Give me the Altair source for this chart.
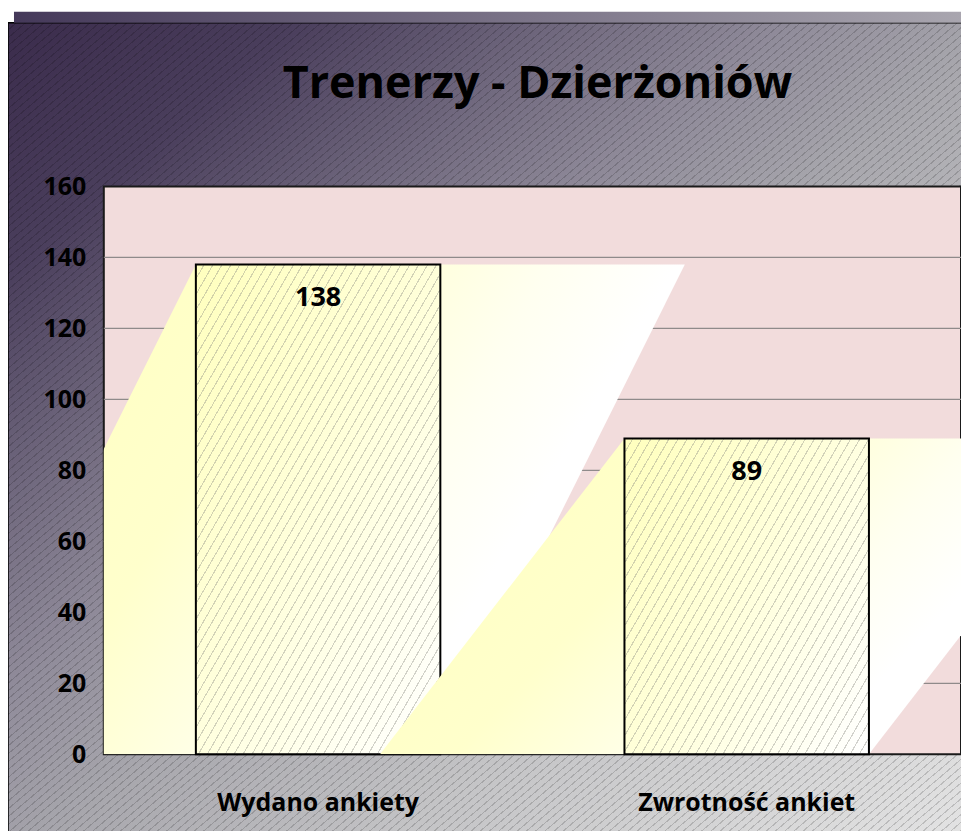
import altair as alt
import pandas as pd

# ---------------- data ----------------
categories = ["Wydano ankiety", "Zwrotność ankiet"]
values = [138, 89]
y_ticks = [0, 20, 40, 60, 80, 100, 120, 140, 160]
title_text = "Trenerzy - Dzierżoniów"

# ---------------- layout / style ----------------
W, H = 859, 569
PAD = {"left": 96, "top": 178, "right": 0, "bottom": 76}
FONT = "Open Sans"
Y_MAX = 160
P_INNER = 0.4296
P_OUTER = P_INNER / 2
BW = 1 - P_INNER  # bar width in band-step units


def hx(c):
    return tuple(int(c[i:i + 2], 16) for i in (1, 3, 5))


def to_hex(rgb):
    return "#%02x%02x%02x" % tuple(max(0, min(255, int(round(v)))) for v in rgb)


def base_at(stops, t):
    for (t0, c0), (t1, c1) in zip(stops[:-1], stops[1:]):
        if t <= t1:
            f = 0 if t1 == t0 else (t - t0) / (t1 - t0)
            a, b = hx(c0), hx(c1)
            return tuple(a[i] + (b[i] - a[i]) * f for i in range(3))
    return hx(stops[-1][1])


def mix(a, b, m):
    return tuple(a[i] * (1 - m) + b[i] * m for i in range(3))


def plain_gradient(stops, x1, y1, x2, y2):
    return alt.LinearGradient(
        gradient="linear",
        stops=[alt.GradientStop(offset=t, color=c) for t, c in stops],
        x1=x1, y1=y1, x2=x2, y2=y2,
    )


def hatch_gradient(stops, n, line_frac, line_col, line_mix, x2, y2):
    lc = hx(line_col)
    out = []
    for i in range(n):
        t0 = i / n
        t1 = (i + 1 - line_frac) / n
        t2 = (i + 1) / n
        out.append(alt.GradientStop(offset=round(t0, 5), color=to_hex(base_at(stops, t0))))
        out.append(alt.GradientStop(offset=round(t1, 5), color=to_hex(base_at(stops, t1))))
        out.append(alt.GradientStop(offset=round(t1, 5), color=to_hex(mix(base_at(stops, t1), lc, line_mix))))
        out.append(alt.GradientStop(offset=round(t2, 5), color=to_hex(mix(base_at(stops, t2), lc, line_mix))))
    return alt.LinearGradient(gradient="linear", stops=out, x1=0, y1=0, x2=x2, y2=y2)


def hatch_params(w, h, slope, spacing):
    k = h / (slope * w)
    s = (1 + k) / (1 + k * k)
    n = int(round((1 + k) / (spacing * ((1 / w) ** 2 + (k / h) ** 2) ** 0.5)))
    return n, s, s * k


# background frame gradient with hatch lines
FRAME_W, FRAME_H = 966, 824
bg_stops = [(0, "#3b2c4c"), (0.15, "#4a3e5c"), (0.28, "#6e667c"), (0.4, "#8f8a99"),
            (0.52, "#a8a7ad"), (0.7, "#c4c4c6"), (1, "#e4e4e4")]
bg_n = int(round(2 / (6 * ((1 / FRAME_W) ** 2 + (1 / FRAME_H) ** 2) ** 0.5)))
bg_grad = hatch_gradient(bg_stops, bg_n, 0.18, "#000000", 0.16, 1, 1)

bevel_grad = plain_gradient([(0, "#45395a"), (1, "#aaa7b0")], 0, 0, 1, 0)

bar_stops = [(0, "#ffffbe"), (0.5, "#ffffdc"), (1, "#ffffff")]
para_grad = plain_gradient([(0, "#ffffc0"), (0.33, "#ffffcc"), (0.6, "#fffff0"),
                            (0.75, "#ffffff"), (1, "#ffffff")], 0, 0.3, 1, 0.7)

# ---------------- data frames ----------------
df = pd.DataFrame({"cat": categories, "value": values})
grid_df = pd.DataFrame({"tick": y_ticks[1:-1]})

para_rows = []
for i, (c, v) in enumerate(zip(categories, values)):
    left = i + 0.5 - BW / 2
    para_rows.append({"cat": c, "py": 0, "px": left - BW, "px2": left + BW})
    para_rows.append({"cat": c, "py": v, "px": left, "px2": left + 2 * BW})
para_df = pd.DataFrame(para_rows)

# ---------------- scales / axes ----------------
yscale = alt.Scale(domain=[0, Y_MAX], nice=False, zero=True)
yaxis = alt.Axis(values=y_ticks, grid=False, domain=False, ticks=False, tickSize=0,
                 labelFont=FONT, labelFontSize=25, labelFontWeight="bold",
                 labelColor="#000000", labelPadding=18, title=None, zindex=1)
xband = alt.Scale(domain=categories, paddingInner=P_INNER, paddingOuter=P_OUTER)
xaxis = alt.Axis(grid=False, domain=False, ticks=False, tickSize=0, labelAngle=0,
                 labelFont=FONT, labelFontSize=25, labelFontWeight="bold",
                 labelColor="#000000", labelPadding=36, labelLimit=0, title=None, zindex=1)
xquant = alt.Scale(domain=[0, 2], nice=False, zero=False)

# ---------------- layers ----------------
one = alt.Data(values=[{}])

frame = alt.Chart(one).mark_rect(fill=bg_grad, stroke="#000000", strokeWidth=1.5).encode(
    x=alt.value(-96), x2=alt.value(870), y=alt.value(-164), y2=alt.value(660))
bevel = alt.Chart(one).mark_rect(fill=bevel_grad).encode(
    x=alt.value(-90), x2=alt.value(870), y=alt.value(-175), y2=alt.value(-164))
plot_bg = alt.Chart(one).mark_rect(fill="#f2dcdc", stroke="#1a1a1a", strokeWidth=2).encode(
    x=alt.value(0), x2=alt.value(W), y=alt.value(0), y2=alt.value(H))

grid = alt.Chart(grid_df).mark_rule(color="#8f8a8a", strokeWidth=1.3).encode(
    y=alt.Y("tick:Q", scale=yscale, axis=yaxis))

layers = [frame, bevel, plot_bg, grid]
for i, (c, v) in enumerate(zip(categories, values)):
    para = alt.Chart(para_df).transform_filter(alt.datum.cat == c).mark_area(
        orient="horizontal", fill=para_grad, clip=True).encode(
        y=alt.Y("py:Q", scale=yscale, axis=yaxis),
        x=alt.X("px:Q", scale=xquant, axis=None),
        x2="px2:Q")
    bw_px = BW * W / 2
    bh_px = v / Y_MAX * H
    n, gx, gy = hatch_params(bw_px, bh_px, 1.73, 7.8)
    bar_grad = hatch_gradient(bar_stops, n, 0.14, "#888880", 0.38, gx, gy)
    bar = alt.Chart(df).transform_filter(alt.datum.cat == c).mark_bar(
        fill=bar_grad, stroke="#000000", strokeWidth=2).encode(
        x=alt.X("cat:N", scale=xband, axis=xaxis if i == 0 else None, sort=categories),
        y=alt.Y("value:Q", scale=yscale, axis=yaxis))
    layers += [para, bar]

labels = alt.Chart(df).mark_text(dy=34, baseline="middle", align="center", font=FONT,
                                 fontSize=27, fontWeight="bold", color="#000000").encode(
    x=alt.X("cat:N", scale=xband, axis=None, sort=categories),
    y=alt.Y("value:Q", scale=yscale, axis=yaxis),
    text=alt.Text("value:Q"))

title = alt.Chart(alt.Data(values=[{"t": title_text}])).mark_text(
    baseline="alphabetic", align="center", font=FONT, fontSize=45, fontWeight="bold",
    color="#000000").encode(x=alt.value(W / 2 + 5), y=alt.value(-89), text="t:N")

layers += [labels, title]

chart = alt.layer(*layers).resolve_scale(x="independent").properties(
    width=W, height=H, padding=PAD,
    autosize=alt.AutoSizeParams(type="none"),
    background="#ffffff",
).configure_view(strokeWidth=0)

chart.save("out.html", embed_options={"renderer": "svg", "actions": False})
